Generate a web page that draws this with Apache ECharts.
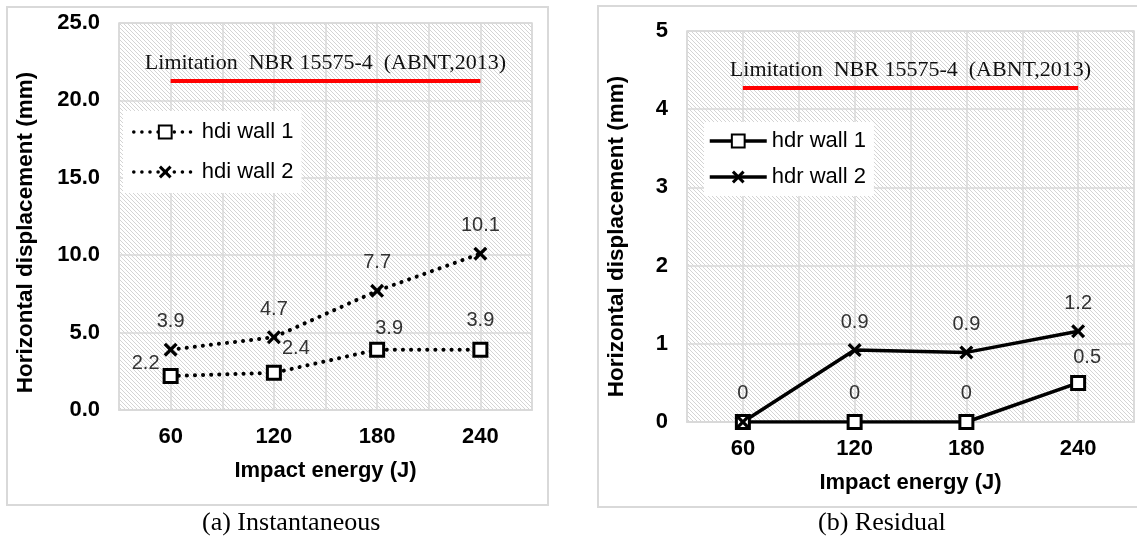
<!DOCTYPE html>
<html>
<head>
<meta charset="utf-8">
<script src="https://cdn.jsdelivr.net/npm/echarts@6/dist/echarts.min.js"></script>
<style>
  html, body { margin: 0; padding: 0; background: #fff; }
  #main { width: 1137px; height: 545px; }
</style>
</head>
<body>
<div id="main"></div>
<script>
// impact energy (J)
var energy = [60, 120, 180, 240];
var xTicks = [60, 120, 180, 240];
// (a) instantaneous horizontal displacement (mm)
var hdiWall1 = [2.2, 2.4, 3.9, 3.9];
var hdiWall2 = [3.9, 4.7, 7.7, 10.1];
// (b) residual horizontal displacement (mm)
var hdrWall1 = [0, 0, 0, 0.5];
var hdrWall2 = [0, 0.92, 0.89, 1.16];
// limitation annotation (where the red line sits)
var limitInst = 21.25;
var limitRes = 4.27;
var limitText = 'Limitation  NBR 15575-4  (ABNT,2013)';

var grey = '#d9d9d9';
var sans = 'Liberation Sans, Arial, sans-serif';
var serif = 'Liberation Serif, Times New Roman, serif';
var crossPath = 'path://M2,0L6,4L10,0L12,2L8,6L12,10L10,12L6,8L2,12L0,10L4,6L0,2Z';

// hatched plot background
var pat = document.createElement('canvas');
pat.width = 8;
pat.height = 8;
var pc = pat.getContext('2d');
pc.fillStyle = '#fff';
pc.fillRect(0, 0, 8, 8);
pc.strokeStyle = '#d4d4d4';
pc.lineWidth = 1;
for (var k = -8; k <= 8; k += 4) {
    pc.beginPath();
    pc.moveTo(0, k);
    pc.lineTo(8, k + 8);
    pc.stroke();
}

function pairs(vals) {
    return energy.map(function (e, i) { return [e, vals[i]]; });
}

function fmtVal(p) {
    var v = p.value[1];
    return v === 0 ? '0' : v.toFixed(1);
}

// per-point label tweaks: an [x, y] offset, or false to hide the label
function withLabels(vals, tweaks) {
    return pairs(vals).map(function (d, i) {
        var item = { value: d };
        var t = tweaks ? tweaks[i] : null;
        if (t === false) {
            item.label = { show: false };
        } else if (t) {
            item.label = { offset: t };
        }
        return item;
    });
}

function xAxis(gi) {
    return {
        type: 'value', gridIndex: gi, min: 30, max: 270, interval: 30,
        name: 'Impact energy (J)', nameLocation: 'middle', nameGap: 50,
        nameTextStyle: { fontFamily: sans, fontWeight: 'bold', fontSize: 22, color: '#000' },
        axisLine: { show: true, lineStyle: { color: grey, width: 2 } },
        axisTick: { show: false },
        axisLabel: {
            fontFamily: sans, fontWeight: 'bold', fontSize: 22, color: '#000', margin: 16,
            formatter: function (v) { return xTicks.indexOf(v) >= 0 ? String(v) : ''; }
        },
        splitLine: { show: true, lineStyle: { color: grey, width: 1.5 } }
    };
}

function yAxis(gi, max, step, dec, gap, pad) {
    return {
        type: 'value', gridIndex: gi, min: 0, max: max, interval: step,
        name: 'Horizontal displacement (mm)', nameLocation: 'middle', nameGap: gap,
        nameTextStyle: { fontFamily: sans, fontWeight: 'bold', fontSize: 22.5, color: '#000', padding: pad },
        axisLine: { show: false },
        axisTick: { show: false },
        axisLabel: {
            fontFamily: sans, fontWeight: 'bold', fontSize: 22, color: '#000', margin: 19,
            formatter: function (v) { return v.toFixed(dec); }
        },
        splitLine: { show: true, lineStyle: { color: grey, width: 1.5 } }
    };
}

var labelBase = {
    show: true, position: 'top', distance: 11,
    fontFamily: sans, fontSize: 20, color: '#333',
    formatter: fmtVal
};

function limitLine(y) {
    return {
        silent: true, symbol: 'none',
        lineStyle: { color: '#ff0000', width: 4, type: 'solid' },
        label: {
            show: true, position: 'insideMiddleTop', distance: 7,
            formatter: limitText, fontFamily: serif, fontSize: 22, color: '#111'
        },
        data: [[{ coord: [60, y] }, { coord: [240, y] }]]
    };
}

var chart = echarts.init(document.getElementById('main'));

var option = {
    backgroundColor: '#fff',
    animation: false,
    grid: [
        { left: 119, top: 23, width: 413, height: 387, show: true,
          backgroundColor: { image: pat, repeat: 'repeat' }, borderColor: grey, borderWidth: 1.5 },
        { left: 687, top: 31, width: 456, height: 391, show: true,
          backgroundColor: { image: pat, repeat: 'repeat' }, borderColor: grey, borderWidth: 1.5 }
    ],
    xAxis: [xAxis(0), xAxis(1)],
    yAxis: [yAxis(0, 25, 5, 1, 82, [0, 32, 0, 0]), yAxis(1, 5, 1, 0, 59, [0, 20, 0, 0])],
    legend: [
        {
            data: ['hdi wall 1', 'hdi wall 2'], orient: 'vertical', left: 123, top: 111,
            padding: [10, 8, 10, 9], itemGap: 18, itemWidth: 63, itemHeight: 16,
            backgroundColor: '#fff',
            lineStyle: { width: 3.5 },
            textStyle: { fontFamily: sans, fontSize: 22, color: '#000' }
        },
        {
            data: ['hdr wall 1', 'hdr wall 2'], orient: 'vertical', left: 704, top: 122,
            padding: [8, 8, 8, 4], itemGap: 14, itemWidth: 57, itemHeight: 16,
            backgroundColor: '#fff',
            lineStyle: { width: 3.5 },
            textStyle: { fontFamily: sans, fontSize: 22, color: '#000' }
        }
    ],
    series: [
        {
            name: 'hdi wall 1', type: 'line', xAxisIndex: 0, yAxisIndex: 0,
            data: withLabels(hdiWall1, [[-25, 17], [22, 5], [12, 8], null]),
            symbol: 'rect', symbolSize: 13,
            itemStyle: { color: '#fff', borderColor: '#000', borderWidth: 3 },
            lineStyle: { color: '#000', width: 4, type: [0.1, 8], cap: 'round' },
            label: labelBase,
            markLine: limitLine(limitInst)
        },
        {
            name: 'hdi wall 2', type: 'line', xAxisIndex: 0, yAxisIndex: 0,
            data: withLabels(hdiWall2),
            symbol: crossPath, symbolSize: 14,
            itemStyle: { color: '#000' },
            lineStyle: { color: '#000', width: 4, type: [0.1, 8], cap: 'round' },
            label: labelBase
        },
        {
            name: 'hdr wall 1', type: 'line', xAxisIndex: 1, yAxisIndex: 1,
            data: withLabels(hdrWall1, [null, null, null, [9, 4]]),
            symbol: 'rect', symbolSize: 13,
            itemStyle: { color: '#fff', borderColor: '#000', borderWidth: 3 },
            lineStyle: { color: '#000', width: 3.5 },
            label: labelBase,
            markLine: limitLine(limitRes)
        },
        {
            name: 'hdr wall 2', type: 'line', xAxisIndex: 1, yAxisIndex: 1,
            data: withLabels(hdrWall2, [false, null, null, null]),
            symbol: crossPath, symbolSize: 14,
            itemStyle: { color: '#000' },
            lineStyle: { color: '#000', width: 3.5 },
            label: labelBase
        }
    ],
    graphic: [
        { type: 'rect', shape: { x: 7, y: 7, width: 541, height: 498 }, silent: true,
          style: { fill: 'none', stroke: grey, lineWidth: 2 } },
        { type: 'rect', shape: { x: 598, y: 6, width: 560, height: 501 }, silent: true,
          style: { fill: 'none', stroke: grey, lineWidth: 2 } },
        { type: 'text', left: 202, top: 510,
          style: { text: '(a) Instantaneous', font: '26px ' + serif, fill: '#000' } },
        { type: 'text', left: 818, top: 510,
          style: { text: '(b) Residual', font: '26px ' + serif, fill: '#000' } }
    ]
};

chart.setOption(option);
</script>
</body>
</html>
